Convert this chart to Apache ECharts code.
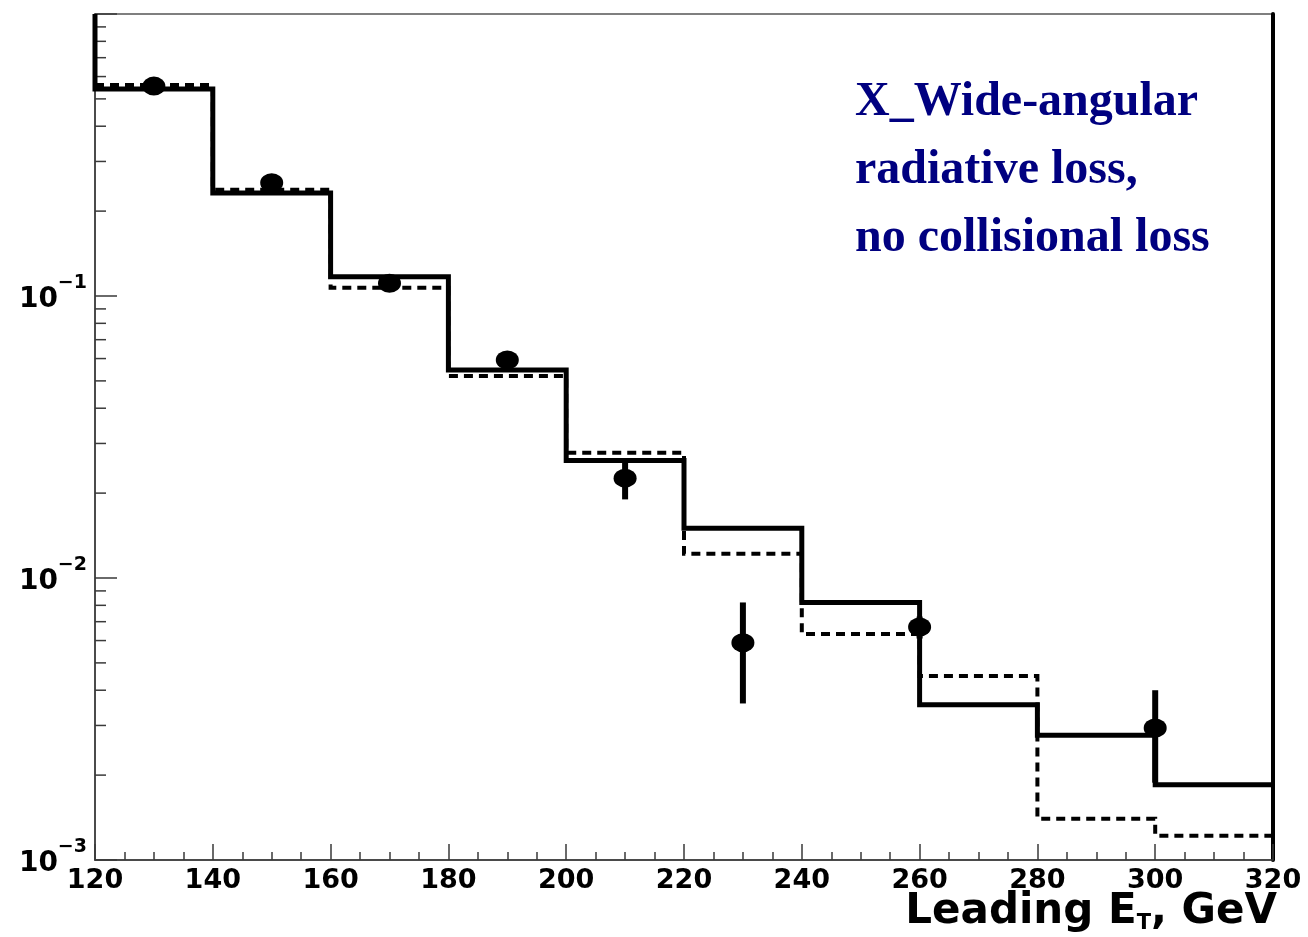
<!DOCTYPE html>
<html>
<head>
<meta charset="utf-8">
<script src="https://cdn.jsdelivr.net/npm/echarts@6/dist/echarts.min.js"></script>
<style>
  html, body { margin: 0; padding: 0; background: #fff; }
  #chart { width: 1308px; height: 937px; }
</style>
</head>
<body>
<div id="chart"></div>
<script>
// Histogram bin edges (GeV) and bin contents
const binEdges = [120, 140, 160, 180, 200, 220, 240, 260, 280, 300, 320];
const solidHist = [0.542, 0.232, 0.117, 0.0547, 0.0261, 0.0150, 0.00818, 0.00355, 0.00277, 0.00185];
const dashedHist = [0.56, 0.238, 0.107, 0.052, 0.0278, 0.0122, 0.00633, 0.00449, 0.0014, 0.00122];

// Measured points with symmetric errors
const dataX = [130, 150, 170, 190, 210, 230, 260, 300];
const dataY = [0.555, 0.252, 0.111, 0.0593, 0.0226, 0.00589, 0.0067, 0.00294];
const dataErr = [0.01, 0.006, 0.003, 0.002, 0.0036, 0.0023, 0.0006, 0.00106];

// Axis ranges
const xMin = 120, xMax = 320, xStep = 20;
const yMin = 0.001, yMax = 1;
const yMinorTicks = [
  0.002, 0.003, 0.004, 0.005, 0.006, 0.007, 0.008, 0.009,
  0.02, 0.03, 0.04, 0.05, 0.06, 0.07, 0.08, 0.09,
  0.2, 0.3, 0.4, 0.5, 0.6, 0.7, 0.8, 0.9
];

// Turn bin contents into a step outline: one point per left edge, plus the last right edge
function stepOutline(values) {
  const pts = values.map((v, i) => [binEdges[i], v]);
  pts.push([binEdges[binEdges.length - 1], values[values.length - 1]]);
  return pts;
}

const solidOutline = [[binEdges[0], yMax]].concat(stepOutline(solidHist));
const dashedOutline = stepOutline(dashedHist);

const axisGray = '#3a3a3a';
const chart = echarts.init(document.getElementById('chart'));

chart.setOption({
  animation: false,
  backgroundColor: '#fff',
  grid: {
    left: 95, right: 35, top: 14, bottom: 77,
    show: true, borderColor: '#555', borderWidth: 1.5
  },
  title: [
    {
      text: '{a|Leading E}{t|T}{a|, GeV}',
      right: 31, top: 890, padding: 0,
      textStyle: {
        rich: {
          a: { fontFamily: 'DejaVu Sans', fontWeight: 'bold', fontSize: 42, lineHeight: 44, color: '#000' },
          t: { fontFamily: 'DejaVu Sans', fontWeight: 'bold', fontSize: 21, lineHeight: 21, color: '#000', verticalAlign: 'bottom' }
        }
      }
    },
    {
      text: 'X_Wide-angular\nradiative loss,\nno collisional loss',
      left: 855, top: 69, padding: 0,
      textStyle: {
        fontFamily: 'Liberation Serif', fontWeight: 'bold',
        fontSize: 48, lineHeight: 68, color: '#000080'
      }
    }
  ],
  xAxis: {
    type: 'value',
    min: xMin, max: xMax, interval: xStep,
    axisLine: { show: true, lineStyle: { color: axisGray, width: 1.5 } },
    axisTick: { show: true, inside: true, length: 16, lineStyle: { color: axisGray, width: 1.5 } },
    minorTick: { show: true, splitNumber: 4, length: 8, lineStyle: { color: axisGray, width: 1.5 } },
    axisLabel: {
      fontFamily: 'DejaVu Sans', fontWeight: 'bold', fontSize: 27, color: '#000', margin: 7
    },
    splitLine: { show: false }
  },
  yAxis: [
    {
      type: 'log', logBase: 10, min: yMin, max: yMax,
      position: 'left',
      axisLine: { show: true, lineStyle: { color: axisGray, width: 1.5 } },
      axisTick: { show: true, inside: true, length: 22, lineStyle: { color: axisGray, width: 1.5 } },
      splitLine: { show: false },
      axisLabel: {
        margin: 8,
        align: 'right',
        formatter: function (value) {
          if (value >= 1) return '';
          const e = Math.round(Math.log10(value));
          // exponent on a short first line, mantissa below it with a spacer
          return '{s|\u2212' + (-e) + '}\n{b|10}{g|}';
        },
        rich: {
          s: { fontFamily: 'DejaVu Sans', fontWeight: 'bold', fontSize: 19, lineHeight: 8, color: '#000', align: 'right' },
          b: { fontFamily: 'DejaVu Sans', fontWeight: 'bold', fontSize: 28, lineHeight: 26, color: '#000' },
          g: { width: 29, fontSize: 17, lineHeight: 26 }
        }
      }
    },
    {
      type: 'log', logBase: 10, min: yMin, max: yMax,
      position: 'right',
      axisLine: { show: true, lineStyle: { color: '#000', width: 4 } },
      axisTick: { show: false },
      axisLabel: { show: false },
      splitLine: { show: false }
    }
  ],
  series: [
    {
      name: 'minor ticks',
      type: 'custom',
      silent: true,
      data: yMinorTicks.map(v => [xMin, v]),
      renderItem: function (params, api) {
        const p = api.coord([api.value(0), api.value(1)]);
        return {
          type: 'line',
          shape: { x1: p[0], y1: p[1], x2: p[0] + 11, y2: p[1] },
          style: { stroke: axisGray, lineWidth: 1.5 }
        };
      },
      z: 1
    },
    {
      name: 'dashed',
      type: 'line',
      step: 'end',
      data: dashedOutline,
      symbol: 'none',
      lineStyle: { color: '#000', width: 4, type: [9, 6], cap: 'butt', join: 'miter' },
      z: 2
    },
    {
      name: 'solid',
      type: 'line',
      step: 'end',
      data: solidOutline,
      symbol: 'none',
      lineStyle: { color: '#000', width: 5, cap: 'butt', join: 'miter' },
      z: 3
    },
    {
      name: 'errors',
      type: 'custom',
      data: dataX.map((x, i) => [x, dataY[i] - dataErr[i], dataY[i] + dataErr[i]]),
      renderItem: function (params, api) {
        const lo = api.coord([api.value(0), api.value(1)]);
        const hi = api.coord([api.value(0), api.value(2)]);
        return {
          type: 'line',
          shape: { x1: lo[0], y1: lo[1], x2: hi[0], y2: hi[1] },
          style: { stroke: '#000', lineWidth: 6 }
        };
      },
      z: 4
    },
    {
      name: 'data',
      type: 'scatter',
      data: dataX.map((x, i) => [x, dataY[i]]),
      symbol: 'circle',
      symbolSize: [23, 19],
      itemStyle: { color: '#000', opacity: 1 },
      z: 5
    }
  ]
});
</script>
</body>
</html>
